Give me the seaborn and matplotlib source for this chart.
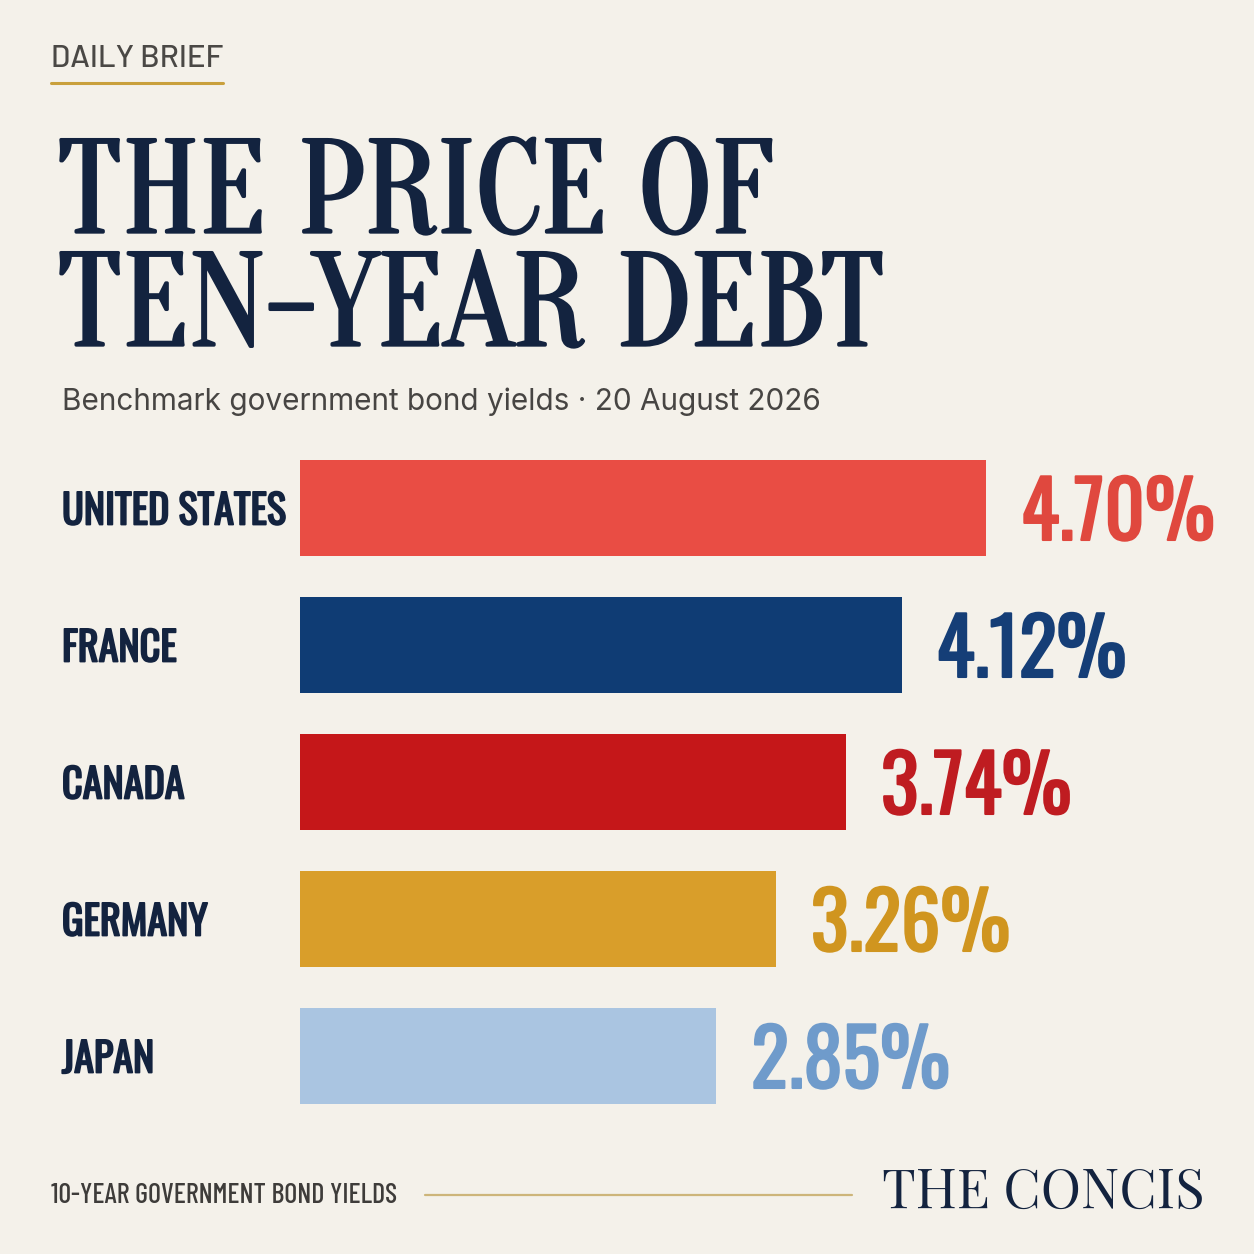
import matplotlib
matplotlib.use("Agg")
import matplotlib.pyplot as plt
import matplotlib.patheffects as pe
from matplotlib.lines import Line2D
import seaborn as sns

# data
countries = ["UNITED STATES", "FRANCE", "CANADA", "GERMANY", "JAPAN"]
yields = [4.70, 4.12, 3.74, 3.26, 2.85]
bar_colors = ["#E94D44", "#0F3C74", "#C51719", "#D99E2A", "#AAC5E1"]
value_colors = ["#E0483E", "#153E77", "#BF1C21", "#D0951F", "#6F9BCB"]

title_lines = ["THE PRICE OF", "TEN-YEAR DEBT"]
subtitle = "Benchmark government bond yields \u00b7 20 August 2026"
kicker = "DAILY BRIEF"
footer_left = "10-YEAR GOVERNMENT BOND YIELDS"
footer_right = "THE CONCIS"

BG = "#F4F1EA"
NAVY = "#13233F"
GOLD = "#C9A03C"

SERIF_TITLE = ["Oranienbaum", "Liberation Serif", "DejaVu Serif"]
SERIF_BRAND = ["Playfair Display", "Liberation Serif", "DejaVu Serif"]
COND = ["Oswald", "Roboto Condensed", "DejaVu Sans"]
COND_SMALL = ["Barlow Condensed", "Roboto Condensed", "DejaVu Sans"]
SANS = ["Inter", "Lato", "DejaVu Sans"]

sns.set_style("white")
W = H = 1254
fig = plt.figure(figsize=(W / 100, H / 100), dpi=100, facecolor=BG)
renderer = fig.canvas.get_renderer()


def fx(px):
    return px / W


def fy(py):
    return 1 - py / H


def fit_width(t, target_px):
    w = t.get_window_extent(renderer).width
    t.set_fontsize(t.get_fontsize() * target_px / w)


# bar area: bars start at x=300 px, ~146 px per percentage point
px_per_pct = 146
ax_left, ax_right = 300, 1230
row_px = 137
ax_top = 508 - row_px / 2
ax = fig.add_axes([fx(ax_left), fy(ax_top + 5 * row_px), fx(ax_right - ax_left), 5 * row_px / H])
ax.set_facecolor("none")

sns.barplot(x=yields, y=countries, hue=countries, palette=bar_colors, legend=False,
            orient="h", width=0.70, saturation=1, linewidth=0, ax=ax)
ax.set_xlim(0, (ax_right - ax_left) / px_per_pct)
ax.set_ylim(4.5, -0.5)
sns.despine(ax=ax, left=True, bottom=True)
ax.set_xticks([])
ax.set_xlabel("")
ax.set_ylabel("")

# country labels as y tick labels, left aligned at x=62
pad_pt = (ax_left - 62) * 72 / 100
ax.tick_params(axis="y", length=0, pad=pad_pt)
ax.set_yticks(range(len(countries)))
ax.set_yticklabels(countries)
for lbl in ax.get_yticklabels():
    lbl.set_ha("left")
    lbl.set_va("center_baseline")
    lbl.set_family(COND)
    lbl.set_color(NAVY)
    lbl.set_fontsize(40)
    lbl.set_path_effects([pe.withStroke(linewidth=1.3, foreground=NAVY)])
fig.canvas.draw()
us_lbl = ax.get_yticklabels()[0]
scale = 224 / us_lbl.get_window_extent(renderer).width
for lbl in ax.get_yticklabels():
    lbl.set_fontsize(40 * scale)

# value labels
value_texts = []
for cont, v, c in zip(ax.containers, yields, value_colors):
    txts = ax.bar_label(cont, labels=[f"{v:.2f}%"], padding=35 * 72 / 100, color=c,
                        fontsize=60, family=COND)
    for t in txts:
        t.set_va("center_baseline")
        t.set_path_effects([pe.withStroke(linewidth=1.5, foreground=c)])
    value_texts += txts
fig.canvas.draw()
vscale = 194 / value_texts[0].get_window_extent(renderer).width
for t in value_texts:
    t.set_fontsize(60 * vscale)

# header
k = fig.text(fx(51), fy(67), kicker, family=["Barlow", "Roboto", "DejaVu Sans"],
             weight="medium", color="#4A4845", fontsize=18, va="baseline", ha="left")
fit_width(k, 172)
fig.add_artist(Line2D([fx(51), fx(223)], [fy(83), fy(83)], color=GOLD, lw=2.2))

t1 = fig.text(fx(57), fy(232), title_lines[0], family=SERIF_TITLE, color=NAVY, fontsize=90,
              va="baseline", ha="left")
t2 = fig.text(fx(57), fy(345), title_lines[1], family=SERIF_TITLE, color=NAVY, fontsize=90,
              va="baseline", ha="left")
fit_width(t2, 828)
t1.set_fontsize(t2.get_fontsize())
for t in (t1, t2):
    t.set_path_effects([pe.withStroke(linewidth=2.4, foreground=NAVY)])

s = fig.text(fx(62), fy(410), subtitle, family=SANS, color="#474543", fontsize=22,
             va="baseline", ha="left")
fit_width(s, 761)

# footer
fl = fig.text(fx(51), fy(1203), footer_left, family=COND_SMALL, weight="medium", color="#3E3C3A",
              fontsize=14, va="baseline", ha="left")
fit_width(fl, 347)
fig.add_artist(Line2D([fx(425), fx(852)], [fy(1195), fy(1195)], color="#CDB57A", lw=1.6))
fr = fig.text(fx(1205), fy(1208), footer_right, family=SERIF_BRAND, color=NAVY, fontsize=30,
              va="baseline", ha="right")
fit_width(fr, 323)

fig.savefig("out.png", dpi=100, facecolor=BG)
